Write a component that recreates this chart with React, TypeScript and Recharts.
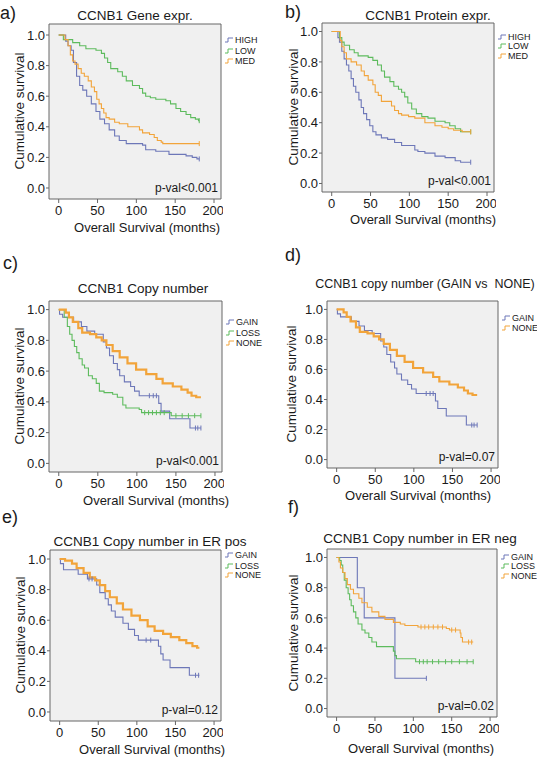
import React from 'react'
import {
  ComposedChart,
  Line,
  Scatter,
  XAxis,
  YAxis,
  CartesianGrid,
  ReferenceLine,
} from 'recharts'

const BLUE = '#6d77b8'
const GREEN = '#5dbb5d'
const ORANGE = '#f2a43a'
const FONT = '"Liberation Sans", Arial, Helvetica, sans-serif'

type Pt = [number, number]

// time (months) -> cumulative survival
const aHigh: Pt[] = [[0, 1], [9, 0.96], [12, 0.93], [16, 0.9], [19, 0.82], [23, 0.73], [27, 0.67], [31, 0.64], [36, 0.6], [42, 0.55], [48, 0.5], [53, 0.45], [59, 0.42], [65, 0.38], [72, 0.34], [78, 0.31], [87, 0.29], [108, 0.28], [112, 0.25], [125, 0.24], [142, 0.22], [164, 0.21], [172, 0.2], [178, 0.19], [181, 0.19]]
const aLow: Pt[] = [[0, 1], [6, 0.97], [18, 0.95], [27, 0.93], [35, 0.91], [48, 0.9], [55, 0.88], [59, 0.85], [63, 0.82], [67, 0.78], [76, 0.76], [82, 0.73], [87, 0.7], [95, 0.67], [104, 0.65], [108, 0.62], [112, 0.6], [118, 0.59], [125, 0.58], [138, 0.57], [144, 0.55], [151, 0.52], [157, 0.5], [164, 0.48], [170, 0.46], [176, 0.45], [180, 0.44], [181, 0.44]]
const aMed: Pt[] = [[0, 1], [8, 0.97], [12, 0.93], [15, 0.87], [18, 0.83], [21, 0.81], [25, 0.78], [29, 0.75], [33, 0.73], [38, 0.7], [42, 0.66], [46, 0.63], [49, 0.58], [52, 0.55], [55, 0.52], [58, 0.49], [61, 0.46], [65, 0.45], [72, 0.43], [78, 0.42], [89, 0.4], [104, 0.38], [108, 0.36], [117, 0.35], [123, 0.33], [127, 0.31], [132, 0.3], [134, 0.29], [181, 0.29]]
const aEnd = [181]

const bHigh: Pt[] = [[0, 1], [8, 0.96], [10, 0.93], [13, 0.87], [16, 0.82], [19, 0.78], [22, 0.74], [25, 0.69], [28, 0.64], [31, 0.6], [35, 0.55], [38, 0.5], [41, 0.46], [45, 0.42], [49, 0.38], [53, 0.34], [57, 0.32], [64, 0.3], [72, 0.29], [81, 0.27], [90, 0.25], [107, 0.22], [111, 0.21], [120, 0.2], [133, 0.18], [146, 0.17], [159, 0.15], [166, 0.14], [179, 0.14]]
const bLow: Pt[] = [[0, 1], [10, 0.96], [13, 0.93], [16, 0.91], [23, 0.88], [29, 0.86], [34, 0.84], [47, 0.83], [53, 0.81], [59, 0.78], [64, 0.74], [68, 0.7], [75, 0.67], [80, 0.64], [86, 0.62], [90, 0.6], [94, 0.57], [98, 0.53], [103, 0.49], [109, 0.46], [116, 0.44], [124, 0.43], [133, 0.41], [146, 0.4], [152, 0.38], [159, 0.36], [166, 0.34], [179, 0.34]]
const bMed: Pt[] = [[0, 1], [11, 0.94], [13, 0.9], [16, 0.86], [19, 0.82], [25, 0.8], [32, 0.78], [38, 0.74], [42, 0.71], [47, 0.68], [53, 0.65], [56, 0.6], [60, 0.58], [64, 0.54], [77, 0.51], [81, 0.48], [86, 0.46], [90, 0.45], [99, 0.44], [107, 0.43], [120, 0.4], [133, 0.38], [142, 0.37], [150, 0.36], [157, 0.35], [168, 0.34], [179, 0.34]]
const bEnd = [179]

const cGain: Pt[] = [[0, 1], [1, 0.97], [5, 0.95], [19, 0.92], [29, 0.89], [36, 0.86], [46, 0.84], [57, 0.79], [61, 0.75], [65, 0.7], [70, 0.65], [75, 0.61], [78, 0.57], [84, 0.53], [92, 0.5], [97, 0.47], [103, 0.44], [128, 0.39], [131, 0.34], [142, 0.29], [168, 0.23], [182, 0.23]]
const cGainCens = [116, 121, 125, 175, 178, 182]
const cLoss: Pt[] = [[0, 1], [7, 0.95], [11, 0.89], [14, 0.84], [17, 0.8], [20, 0.76], [23, 0.72], [26, 0.68], [30, 0.64], [33, 0.62], [38, 0.57], [43, 0.55], [48, 0.52], [52, 0.47], [58, 0.46], [69, 0.45], [75, 0.43], [82, 0.38], [86, 0.36], [103, 0.35], [106, 0.33], [144, 0.31], [182, 0.31]]
const cLossCens = [110, 115, 120, 125, 130, 135, 150, 158, 166, 174, 182]
const cNone: Pt[] = [[0, 1], [9, 0.98], [13, 0.95], [18, 0.92], [25, 0.88], [30, 0.85], [40, 0.84], [48, 0.82], [55, 0.8], [61, 0.77], [69, 0.73], [78, 0.69], [88, 0.65], [99, 0.61], [112, 0.58], [125, 0.55], [133, 0.52], [146, 0.5], [157, 0.48], [165, 0.46], [170, 0.44], [176, 0.43], [182, 0.43]]

const eGain: Pt[] = [[0, 1], [1, 0.97], [5, 0.93], [24, 0.9], [36, 0.87], [48, 0.83], [52, 0.78], [59, 0.74], [63, 0.7], [67, 0.66], [72, 0.62], [82, 0.58], [89, 0.54], [97, 0.5], [102, 0.47], [128, 0.43], [131, 0.38], [134, 0.34], [143, 0.29], [168, 0.24], [181, 0.24]]
const eGainCens = [38, 42, 112, 118, 176, 180]
const eNone: Pt[] = [[0, 1], [7, 0.99], [16, 0.97], [22, 0.94], [31, 0.91], [39, 0.88], [46, 0.86], [52, 0.83], [59, 0.79], [65, 0.75], [74, 0.71], [82, 0.67], [93, 0.63], [104, 0.6], [114, 0.56], [123, 0.53], [134, 0.51], [144, 0.49], [155, 0.47], [164, 0.45], [172, 0.43], [178, 0.42], [181, 0.42]]

const fGain: Pt[] = [[0, 1], [27, 0.8], [36, 0.6], [76, 0.2], [117, 0.2]]
const fGainCens = [117]
const fLoss: Pt[] = [[0, 1], [4, 0.98], [6, 0.95], [8, 0.9], [10, 0.85], [12.5, 0.8], [15, 0.76], [17, 0.72], [19, 0.68], [22, 0.64], [25, 0.6], [28, 0.56], [33, 0.52], [37, 0.5], [42, 0.47], [46, 0.44], [52, 0.41], [74, 0.38], [76, 0.35], [78, 0.33], [103, 0.31], [178, 0.31]]
const fLossCens = [108, 113, 118, 125, 133, 142, 150, 160, 170, 178]
const fNone: Pt[] = [[0, 1], [3, 0.97], [5, 0.93], [8, 0.9], [11, 0.86], [14, 0.82], [18, 0.79], [22, 0.76], [29, 0.73], [33, 0.7], [40, 0.67], [46, 0.64], [55, 0.61], [63, 0.59], [74, 0.57], [83, 0.56], [89, 0.55], [106, 0.54], [143, 0.53], [147, 0.52], [161, 0.5], [162, 0.47], [164, 0.44], [178, 0.44]]
const fNoneCens = [110, 115, 120, 126, 132, 138, 150, 155, 172, 176]

const xTicks = [0, 50, 100, 150, 200]
const yTicks = [0, 0.2, 0.4, 0.6, 0.8, 1.0]
const legendExpr = ['HIGH', 'LOW', 'MED']
const legendCopy = ['GAIN', 'LOSS', 'NONE']
const legendGainNone = ['GAIN', 'NONE']

const legendColor: Record<string, string> = {
  HIGH: BLUE, LOW: GREEN, MED: ORANGE, GAIN: BLUE, LOSS: GREEN, NONE: ORANGE,
}

type Series = { name: string; color: string; curve: Pt[]; cens?: number[]; width?: number }
type Box = { x: number; y: number; w: number; h: number }

const YW = 45
const XH = 22

function stepAt(curve: Pt[], t: number) {
  let s = curve[0][1]
  for (const [ti, si] of curve) if (ti <= t) s = si
  return s
}

function Txt({ x, y, size, children, anchor = 'middle', rotate = false }: any) {
  const tx = anchor === 'middle' ? '-50%' : anchor === 'end' ? '-100%' : '0'
  return (
    <div
      style={{
        position: 'absolute',
        left: x,
        top: y,
        fontSize: size,
        lineHeight: 1,
        whiteSpace: 'pre',
        color: '#1a1a1a',
        transform: `translate(${tx}, -50%)${rotate ? ' rotate(-90deg)' : ''}`,
        transformOrigin: rotate ? '50% 50%' : undefined,
      }}
    >
      {children}
    </div>
  )
}

function Panel(props: {
  box: Box; ypad: number; series: Series[]; legend: string[]; legendTop: number[]
  letter: string; letterPos: [number, number]; title: string; titlePos: [number, number]
  titleSize?: number; xTitlePos: [number, number]; yTitlePos: [number, number]; pval: string
}) {
  const { box, ypad, series } = props
  const xDomain: [number, number] = [-12.5, 209]
  const yDomain: [number, number] = [-ypad, 1 + ypad]
  return (
    <>
      <div style={{ position: 'absolute', left: box.x - YW, top: box.y - 2 }}>
        <ComposedChart
          width={YW + box.w + 2}
          height={box.h + 2 + XH}
          margin={{ top: 2, right: 2, bottom: 0, left: 0 }}
          style={{ fontFamily: FONT }}
        >
          <CartesianGrid fill="#f0f0f0" horizontal={false} vertical={false} />
          <XAxis
            type="number"
            dataKey="t"
            domain={xDomain}
            ticks={xTicks}
            allowDataOverflow
            height={XH}
            tickSize={4}
            tickMargin={3}
            axisLine={{ stroke: '#666' }}
            tickLine={{ stroke: '#666' }}
            tick={{ fill: '#1a1a1a', fontSize: 13 }}
          />
          <YAxis
            type="number"
            dataKey="s"
            domain={yDomain}
            ticks={yTicks}
            allowDataOverflow
            width={YW}
            tickSize={3}
            tickMargin={1}
            tickFormatter={(v: number) => v.toFixed(1)}
            axisLine={{ stroke: '#666' }}
            tickLine={{ stroke: '#666' }}
            tick={{ fill: '#1a1a1a', fontSize: 13 }}
          />
          <ReferenceLine x={xDomain[1]} stroke="#666" ifOverflow="visible" />
          <ReferenceLine y={yDomain[1]} stroke="#666" ifOverflow="visible" />
          {series.map((sr) => (
            <Line
              key={sr.name}
              data={sr.curve.map(([t, s]) => ({ t, s }))}
              dataKey="s"
              type="stepAfter"
              stroke={sr.color}
              strokeWidth={sr.width ?? 1.1}
              dot={false}
              isAnimationActive={false}
            />
          ))}
          {series
            .filter((sr) => sr.cens)
            .map((sr) => (
              <Scatter
                key={sr.name + '-c'}
                data={sr.cens!.map((t) => ({ t, s: stepAt(sr.curve, t) }))}
                dataKey="s"
                isAnimationActive={false}
                shape={(p: any) => (
                  <line x1={p.cx} x2={p.cx} y1={p.cy - 2.5} y2={p.cy + 2.5} stroke={sr.color} strokeWidth={1} />
                )}
              />
            ))}
        </ComposedChart>
      </div>
      <Txt x={props.letterPos[0]} y={props.letterPos[1]} size={18} anchor="start">{props.letter}</Txt>
      <Txt x={props.titlePos[0]} y={props.titlePos[1]} size={props.titleSize ?? 13.5}>{props.title}</Txt>
      <Txt x={props.xTitlePos[0]} y={props.xTitlePos[1]} size={13}>Overall Survival (months)</Txt>
      <Txt x={props.yTitlePos[0]} y={props.yTitlePos[1]} size={13.5} rotate>Cumulative survival</Txt>
      <Txt x={box.x + box.w - 3} y={box.y + box.h - 11} size={12} anchor="end">{props.pval}</Txt>
      {props.legend.map((name, i) => (
        <div
          key={name}
          style={{
            position: 'absolute',
            left: box.x + box.w + 4,
            top: box.y + props.legendTop[i],
            transform: 'translateY(-50%)',
            display: 'flex',
            alignItems: 'center',
            fontSize: 9,
            lineHeight: 1,
            color: '#1a1a1a',
          }}
        >
          <svg width={8} height={7} style={{ marginRight: 2 }}>
            <path d="M0 5.5 H3 V1.5 H8" fill="none" stroke={legendColor[name]} strokeWidth={1} />
          </svg>
          {name}
        </div>
      ))}
    </>
  )
}

export default function App() {
  return (
    <div
      style={{
        position: 'absolute',
        left: 0,
        top: 0,
        width: 537,
        height: 759,
        background: '#fff',
        fontFamily: FONT,
        overflow: 'hidden',
      }}
    >
      <Panel
        box={{ x: 49, y: 24, w: 172, h: 175 }}
        ypad={0.072}
        series={[
          { name: 'HIGH', color: BLUE, curve: aHigh, cens: aEnd },
          { name: 'LOW', color: GREEN, curve: aLow, cens: aEnd },
          { name: 'MED', color: ORANGE, curve: aMed, cens: aEnd },
        ]}
        legend={legendExpr}
        legendTop={[16, 26.5, 37]}
        letter="a)"
        letterPos={[0, 13]}
        title="CCNB1 Gene expr."
        titlePos={[135, 16]}
        xTitlePos={[147, 227]}
        yTitlePos={[20, 111]}
        pval="p-val<0.001"
      />
      <Panel
        box={{ x: 322, y: 23, w: 172, h: 169 }}
        ypad={0.056}
        series={[
          { name: 'HIGH', color: BLUE, curve: bHigh, cens: bEnd },
          { name: 'LOW', color: GREEN, curve: bLow, cens: bEnd },
          { name: 'MED', color: ORANGE, curve: bMed, cens: bEnd },
        ]}
        legend={legendExpr}
        legendTop={[14, 23, 33]}
        letter="b)"
        letterPos={[285, 12]}
        title="CCNB1 Protein expr."
        titlePos={[428, 16]}
        xTitlePos={[423, 219]}
        yTitlePos={[294, 107]}
        pval="p-val<0.001"
      />
      <Panel
        box={{ x: 49, y: 301, w: 173, h: 171 }}
        ypad={0.056}
        series={[
          { name: 'GAIN', color: BLUE, curve: cGain, cens: cGainCens },
          { name: 'LOSS', color: GREEN, curve: cLoss, cens: cLossCens },
          { name: 'NONE', color: ORANGE, curve: cNone, width: 2.2 },
        ]}
        legend={legendCopy}
        legendTop={[21, 32, 42]}
        letter="c)"
        letterPos={[3, 263]}
        title="CCNB1 Copy number"
        titlePos={[143, 289]}
        xTitlePos={[156, 500]}
        yTitlePos={[20, 386]}
        pval="p-val<0.001"
      />
      <Panel
        box={{ x: 327, y: 301, w: 171, h: 167 }}
        ypad={0.056}
        series={[
          { name: 'GAIN', color: BLUE, curve: cGain, cens: cGainCens },
          { name: 'NONE', color: ORANGE, curve: cNone, width: 2.2 },
        ]}
        legend={legendGainNone}
        legendTop={[17, 27]}
        letter="d)"
        letterPos={[285, 255]}
        title="CCNB1 copy number (GAIN vs  NONE)"
        titleSize={12.5}
        titlePos={[425, 284]}
        xTitlePos={[418, 495]}
        yTitlePos={[292, 384]}
        pval="p-val=0.07"
      />
      <Panel
        box={{ x: 50, y: 550, w: 171, h: 171 }}
        ypad={0.059}
        series={[
          { name: 'GAIN', color: BLUE, curve: eGain, cens: eGainCens },
          { name: 'NONE', color: ORANGE, curve: eNone, width: 2.2 },
        ]}
        legend={legendCopy}
        legendTop={[5, 16, 25]}
        letter="e)"
        letterPos={[2, 517]}
        title="CCNB1 Copy number in ER pos"
        titlePos={[150, 542]}
        xTitlePos={[152, 749]}
        yTitlePos={[21, 635]}
        pval="p-val=0.12"
      />
      <Panel
        box={{ x: 327, y: 549, w: 170, h: 168 }}
        ypad={0.056}
        series={[
          { name: 'GAIN', color: BLUE, curve: fGain, cens: fGainCens },
          { name: 'LOSS', color: GREEN, curve: fLoss, cens: fLossCens },
          { name: 'NONE', color: ORANGE, curve: fNone, cens: fNoneCens },
        ]}
        legend={legendCopy}
        legendTop={[8, 17, 27]}
        letter="f)"
        letterPos={[288, 507]}
        title="CCNB1 Copy number in ER neg"
        titlePos={[420, 539]}
        xTitlePos={[421, 748]}
        yTitlePos={[294, 633]}
        pval="p-val=0.02"
      />
    </div>
  )
}
